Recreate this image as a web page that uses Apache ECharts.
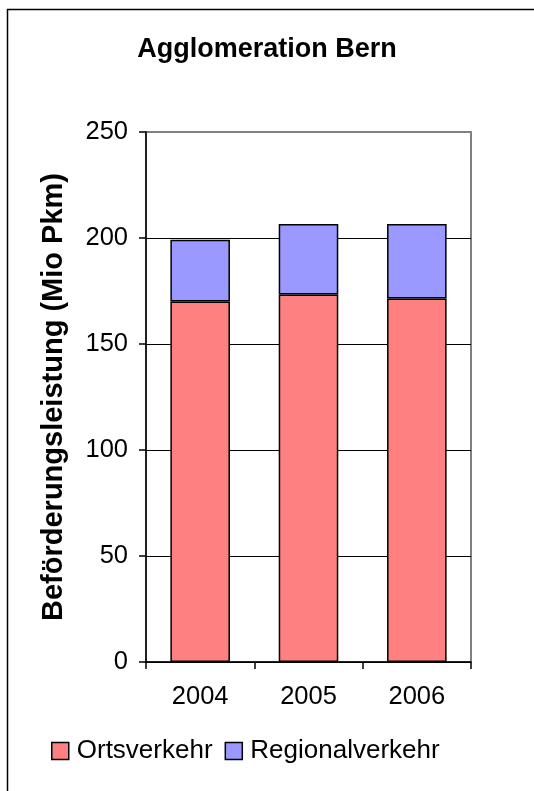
<!DOCTYPE html>
<html>
<head>
<meta charset="utf-8">
<script src="https://cdn.jsdelivr.net/npm/echarts@6/dist/echarts.min.js"></script>
<style>html,body{margin:0;padding:0;background:#fff;}#c{width:534px;height:791px;}</style>
</head>
<body>
<div id="c"></div>
<script>
const categories = ['2004', '2005', '2006'];
const ortsverkehr = [170.0, 173.3, 171.5];
const regionalverkehr = [29.2, 33.3, 35.1];
const yTicks = [0, 50, 100, 150, 200, 250];

const chart = echarts.init(document.getElementById('c'), null, {renderer: 'canvas'});
const F = 'Liberation Sans, Arial, sans-serif';
chart.setOption({
  animation: false,
  backgroundColor: '#fff',
  textStyle: {fontFamily: F},
  graphic: [{
    type: 'rect', left: 5, top: 7, silent: true,
    shape: {width: 600, height: 900},
    style: {fill: 'none', stroke: '#000', lineWidth: 1.5}
  }],
  title: {
    text: 'Agglomeration Bern', left: 'center', top: 31,
    textStyle: {fontFamily: F, fontSize: 27, fontWeight: 'bold', color: '#000'}
  },
  legend: {
    left: 46, top: 733, itemWidth: 17, itemHeight: 17, itemGap: 12,
    icon: 'rect',
    textStyle: {fontFamily: F, fontSize: 26, color: '#000', padding: [0, 0, 0, 3]},
    itemStyle: {borderColor: '#000', borderWidth: 1.5},
    data: ['Ortsverkehr', 'Regionalverkehr']
  },
  grid: {
    left: 146, right: 63, top: 132, bottom: 129, show: true,
    borderColor: '#808080', borderWidth: 2, backgroundColor: 'transparent'
  },
  xAxis: {
    type: 'category', data: categories,
    axisLine: {lineStyle: {color: '#000', width: 1.5}},
    axisTick: {show: true, length: 7, lineStyle: {color: '#000', width: 1.5}},
    axisLabel: {fontFamily: F, fontSize: 25.5, color: '#000', margin: 22}
  },
  yAxis: {
    type: 'value', min: 0, max: 250, interval: 50,
    name: 'Beförderungsleistung (Mio Pkm)', nameLocation: 'middle', nameRotate: 90, nameGap: 78,
    nameTextStyle: {fontFamily: F, fontSize: 29, fontWeight: 'bold', color: '#000'},
    axisLine: {show: true, lineStyle: {color: '#000', width: 1.5}},
    axisTick: {show: true, length: 7, lineStyle: {color: '#000', width: 1.5}},
    axisLabel: {fontFamily: F, fontSize: 25.5, color: '#000', margin: 18,
      formatter: v => yTicks.includes(v) ? String(v) : ''},
    splitLine: {show: true, showMaxLine: false, lineStyle: {color: '#000', width: 1.2}}
  },
  series: [
    {name: 'Ortsverkehr', type: 'bar', stack: 'a', data: ortsverkehr, barCategoryGap: '45%',
      itemStyle: {color: '#FF8080', borderColor: '#000', borderWidth: 1.5}},
    {name: 'Regionalverkehr', type: 'bar', stack: 'a', data: regionalverkehr, barCategoryGap: '45%',
      itemStyle: {color: '#9999FF', borderColor: '#000', borderWidth: 1.5}}
  ]
});
</script>
</body>
</html>
